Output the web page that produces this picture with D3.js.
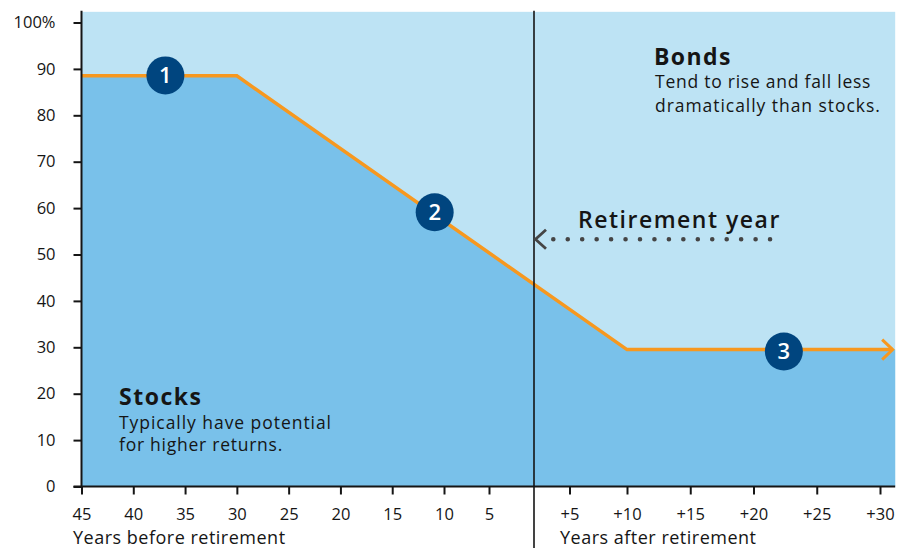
<!DOCTYPE html>
<html>
<head>
<meta charset="utf-8">
<script src="https://cdn.jsdelivr.net/npm/d3@7"></script>
<style>
  html, body { margin: 0; padding: 0; background: #fff; }
  svg { display: block; font-family: "Open Sans", Lato, sans-serif; }
</style>
</head>
<body>
<svg id="chart" width="900" height="548"></svg>
<script>
// ---- data ----
const glideYears = [-45, -30, 10, 31];
const stockShare = [88.5, 88.5, 29.5, 29.5];
const yTicks = [0, 10, 20, 30, 40, 50, 60, 70, 80, 90, 100];
const yTickLabels = ["0", "10", "20", "30", "40", "50", "60", "70", "80", "90", "100%"];
const xTicksBefore = [-45, -40, -35, -30, -25, -20, -15, -10, -5];
const xLabelsBefore = ["45", "40", "35", "30", "25", "20", "15", "10", "5"];
const xTicksAfter = [5, 10, 15, 20, 25, 30];
const xLabelsAfter = ["+5", "+10", "+15", "+20", "+25", "+30"];
const markerYears = [-36.9, -10.9, 22.4];
const markerValues = [88.6, 59.1, 29.1];
const markerLabels = ["1", "2", "3"];
const retirementYear = 0;
const plotEndYear = 31.2;
const plotTopValue = 102.3;

// ---- layout ----
const svg = d3.select("#chart");
const x = d3.scaleLinear()
  .domain([-45, -10, 0, 5, 10, 30])
  .range([81.5, 444, 534, 569.5, 627, 880]);
const y = d3.scaleLinear().domain([0, 100]).range([486.5, 22.5]);

const C = {
  bonds: "#bde3f4",
  stocks: "#79c1ea",
  line: "#f7981f",
  marker: "#00457f",
  ink: "#151515",
  dots: "#454545"
};
const FONT = "'Open Sans', Lato, sans-serif";

// Bonds background
svg.append("rect")
  .attr("x", x(-45)).attr("y", y(plotTopValue))
  .attr("width", x(plotEndYear) - x(-45))
  .attr("height", y(0) - y(plotTopValue))
  .attr("fill", C.bonds);

// Stocks area
const pts = glideYears.map((d, i) => ({ yr: d, v: stockShare[i] }));
const areaPts = pts.concat([{ yr: plotEndYear, v: stockShare[stockShare.length - 1] }]);
svg.append("path")
  .datum(areaPts)
  .attr("d", d3.area().x(d => x(d.yr)).y0(y(0)).y1(d => y(d.v)))
  .attr("fill", C.stocks);

// Glide path line
svg.append("path")
  .datum(pts)
  .attr("d", d3.line().x(d => x(d.yr)).y(d => y(d.v)))
  .attr("fill", "none")
  .attr("stroke", C.line)
  .attr("stroke-width", 3.5)
  .attr("stroke-linejoin", "miter");

// end arrowhead (chevron)
const endYr = glideYears[glideYears.length - 1];
const endV = stockShare[stockShare.length - 1];
const ex = x(endYr), ey = y(endV);
svg.append("path")
  .attr("d", `M${ex - 10.5},${ey - 10} L${ex},${ey} L${ex - 10.5},${ey + 10}`)
  .attr("fill", "none")
  .attr("stroke", C.line)
  .attr("stroke-width", 3);

// Y axis
const yAxis = svg.append("g")
  .attr("transform", `translate(${x(-45)},0)`)
  .call(d3.axisLeft(y).tickValues(yTicks).tickFormat((d, i) => yTickLabels[i]).tickSize(8).tickPadding(18));
yAxis.select(".domain").remove();
yAxis.selectAll(".tick line").attr("stroke", C.ink).attr("stroke-width", 2);
yAxis.selectAll(".tick text").attr("fill", C.ink).style("font-size", "16.5px").style("font-family", FONT);
svg.append("line")
  .attr("x1", x(-45)).attr("x2", x(-45))
  .attr("y1", y(plotTopValue) - 1).attr("y2", y(0) + 1)
  .attr("stroke", C.ink).attr("stroke-width", 2);

// X axis
function styleX(g) {
  g.select(".domain").remove();
  g.selectAll(".tick line").attr("stroke", C.ink).attr("stroke-width", 2);
  g.selectAll(".tick text").attr("fill", C.ink).style("font-size", "16.5px").style("font-family", FONT);
}
svg.append("g")
  .attr("transform", `translate(0,${y(0)})`)
  .call(d3.axisBottom(x).tickValues(xTicksBefore).tickFormat((d, i) => xLabelsBefore[i]).tickSize(8).tickPadding(14))
  .call(styleX);
svg.append("g")
  .attr("transform", `translate(0,${y(0)})`)
  .call(d3.axisBottom(x).tickValues(xTicksAfter).tickFormat((d, i) => xLabelsAfter[i]).tickSize(8).tickPadding(14))
  .call(styleX);
svg.append("line")
  .attr("x1", x(-45) - 8).attr("x2", x(plotEndYear))
  .attr("y1", y(0)).attr("y2", y(0))
  .attr("stroke", C.ink).attr("stroke-width", 2);

// Retirement vertical line
svg.append("line")
  .attr("x1", x(retirementYear)).attr("x2", x(retirementYear))
  .attr("y1", y(plotTopValue) - 1).attr("y2", 548)
  .attr("stroke", C.ink).attr("stroke-width", 1.6);

// Axis titles
svg.append("text").attr("x", 73).attr("y", 543.5)
  .attr("fill", C.ink).style("font-size", "18px").style("letter-spacing", "0.5px").text("Years before retirement");
svg.append("text").attr("x", 560).attr("y", 543.5)
  .attr("fill", C.ink).style("font-size", "18px").style("letter-spacing", "0.5px").text("Years after retirement");

// Retirement year annotation
const ry = 239.3;
svg.append("line")
  .attr("x1", 553.3).attr("x2", 771).attr("y1", ry).attr("y2", ry)
  .attr("stroke", C.dots).attr("stroke-width", 4.6)
  .attr("stroke-linecap", "round").attr("stroke-dasharray", "0 14.45");
svg.append("path")
  .attr("d", `M${x(retirementYear) + 12},${ry - 9.5} L${x(retirementYear) + 1.5},${ry} L${x(retirementYear) + 12},${ry + 9.5}`)
  .attr("fill", "none").attr("stroke", C.dots).attr("stroke-width", 2.8);
svg.append("text").attr("x", 578).attr("y", 227.5)
  .attr("fill", C.ink).style("font-size", "23px").style("font-weight", 600)
  .style("letter-spacing", "1.5px").text("Retirement year");

// Bonds text
svg.append("text").attr("x", 654).attr("y", 64.5)
  .attr("fill", C.ink).style("font-size", "23px").style("font-weight", 700)
  .style("letter-spacing", "1.4px").text("Bonds");
svg.append("text").attr("x", 655).attr("y", 88)
  .attr("fill", C.ink).style("font-size", "17.5px").style("letter-spacing", "0.75px").text("Tend to rise and fall less");
svg.append("text").attr("x", 655).attr("y", 111.5)
  .attr("fill", C.ink).style("font-size", "17.5px").style("letter-spacing", "0.95px").text("dramatically than stocks.");

// Stocks text
svg.append("text").attr("x", 119).attr("y", 404.5)
  .attr("fill", C.ink).style("font-size", "23px").style("font-weight", 700)
  .style("letter-spacing", "1.5px").text("Stocks");
svg.append("text").attr("x", 119).attr("y", 429)
  .attr("fill", C.ink).style("font-size", "17.5px").style("letter-spacing", "0.95px").text("Typically have potential");
svg.append("text").attr("x", 119).attr("y", 451)
  .attr("fill", C.ink).style("font-size", "17.5px").style("letter-spacing", "0.75px").text("for higher returns.");

// Markers
const mk = svg.selectAll("g.marker")
  .data(markerYears.map((d, i) => ({ yr: d, v: markerValues[i], label: markerLabels[i] })))
  .enter().append("g").attr("class", "marker")
  .attr("transform", d => `translate(${x(d.yr)},${y(d.v)})`);
mk.append("circle").attr("r", 19).attr("fill", C.marker);
mk.append("text").attr("text-anchor", "middle").attr("dy", "0.36em")
  .attr("fill", "#fff").style("font-size", "22px").style("font-weight", 600)
  .text(d => d.label);
</script>
</body>
</html>
